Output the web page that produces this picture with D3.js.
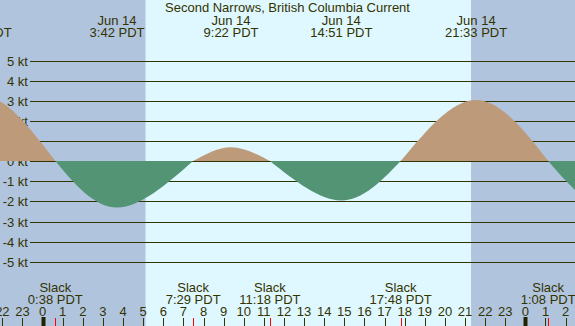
<!DOCTYPE html>
<html>
<head>
<meta charset="utf-8">
<script src="https://cdn.jsdelivr.net/npm/d3@7"></script>
<style>
  body { margin: 0; background: #fff; }
  svg { display: block; }
  text { font-family: "Liberation Sans", Arial, sans-serif; font-size: 13px; fill: #333300; }
</style>
</head>
<body>
<script>
var title = "Second Narrows, British Columbia Current";

// current events (slack / max flood / max ebb), local PDT times
var eventTimes = ["2024-06-13 17:20", "2024-06-13 20:55", "2024-06-14 00:38", "2024-06-14 03:42",
                  "2024-06-14 07:29", "2024-06-14 09:22", "2024-06-14 11:18", "2024-06-14 14:51",
                  "2024-06-14 17:48", "2024-06-14 21:33", "2024-06-15 01:08", "2024-06-15 04:20",
                  "2024-06-15 07:50"];
var eventSpeeds = [0, 3.3, 0, -2.3, 0, 0.7, 0, -1.95, 0, 3.05, 0, -2.4, 0];
var eventTypes = ["slack", "flood", "slack", "ebb", "slack", "flood", "slack", "ebb",
                  "slack", "flood", "slack", "ebb", "slack"];

var sunrise = ["2024-06-13 05:07", "2024-06-14 05:07", "2024-06-15 05:07"];
var sunset = ["2024-06-13 21:17", "2024-06-14 21:18", "2024-06-15 21:18"];

var speedTicks = [5, 4, 3, 2, 1, 0, -1, -2, -3, -4, -5];
var viewStart = "2024-06-13 21:53";
var viewEnd = "2024-06-15 02:28";

var WIDTH = 575;
var HEIGHT = 326;

var parse = d3.timeParse("%Y-%m-%d %H:%M");
var fmtDay = d3.timeFormat("%b %-d");
var fmtTime = d3.timeFormat("%-H:%M PDT");
var fmtHour = d3.timeFormat("%-H");

var events = eventTimes.map(function (t, i) {
  return {t: parse(t), v: eventSpeeds[i], type: eventTypes[i]};
});

// one lobe per half cycle: slack -> max -> slack
var lobes = [];
events.forEach(function (d, i) {
  if (d.type !== "slack" && i > 0 && i < events.length - 1) {
    lobes.push({type: d.type, pts: [events[i - 1], d, events[i + 1]]});
  }
});

var xScale = d3.scaleTime()
  .domain([parse(viewStart), parse(viewEnd)])
  .range([0, WIDTH]);

var yScale = d3.scaleLinear()
  .domain([5, -5])
  .range([60.7, 261.7]);

var px = function (v) { return Math.round(v) + 0.5; };

var svg = d3.select('body').append('svg')
  .attr('width', WIDTH)
  .attr('height', HEIGHT);

// day / night background
svg.append('rect')
  .attr('width', WIDTH).attr('height', HEIGHT)
  .attr('fill', '#b0c4de');

svg.append('g').selectAll('rect')
  .data(sunrise)
  .enter()
  .append('rect')
  .attr('x', function (d, i) { return xScale(parse(d)); })
  .attr('y', 0)
  .attr('width', function (d, i) { return xScale(parse(sunset[i])) - xScale(parse(d)); })
  .attr('height', HEIGHT)
  .attr('fill', '#dff7ff');

// grid lines + kt labels
var grid = svg.append('g');
grid.selectAll('line')
  .data(speedTicks)
  .enter()
  .append('line')
  .attr('x1', 30).attr('x2', WIDTH)
  .attr('y1', function (d) { return px(yScale(d)); })
  .attr('y2', function (d) { return px(yScale(d)); })
  .attr('stroke', '#333300')
  .attr('stroke-width', 1);

grid.selectAll('text')
  .data(speedTicks)
  .enter()
  .append('text')
  .attr('x', 28)
  .attr('y', function (d) { return Math.round(yScale(d)) + 5; })
  .attr('text-anchor', 'end')
  .text(function (d) { return d + " kt"; });

// flood / ebb fill
var zeroY = Math.round(yScale(0));

var area = d3.area()
  .curve(d3.curveNatural)
  .x(function (d) { return xScale(d.t); })
  .y0(zeroY)
  .y1(function (d) { return d.v === 0 ? zeroY : yScale(d.v); });

svg.append('g').selectAll('path')
  .data(lobes)
  .enter()
  .append('path')
  .attr('d', function (d) { return area(d.pts); })
  .attr('fill', function (d) { return d.type === "flood" ? '#bc9a7a' : '#529474'; });

// title
svg.append('text')
  .attr('x', WIDTH / 2)
  .attr('y', 12)
  .attr('text-anchor', 'middle')
  .text(title);

// max flood / ebb labels along the top
var maxEvents = events.filter(function (d) { return d.type !== "slack"; });
var topLabels = svg.append('g').selectAll('g')
  .data(maxEvents)
  .enter()
  .append('g')
  .attr('transform', function (d) { return "translate(" + xScale(d.t) + ",0)"; });
topLabels.append('text').attr('y', 24.5).attr('text-anchor', 'middle')
  .text(function (d) { return fmtDay(d.t); });
topLabels.append('text').attr('y', 36.5).attr('text-anchor', 'middle')
  .text(function (d) { return fmtTime(d.t); });

// slack labels along the bottom
var slackEvents = events.filter(function (d) { return d.type === "slack"; });
var bottomLabels = svg.append('g').selectAll('g')
  .data(slackEvents)
  .enter()
  .append('g')
  .attr('transform', function (d) { return "translate(" + xScale(d.t) + ",0)"; });
bottomLabels.append('text').attr('y', 291.5).attr('text-anchor', 'middle').text("Slack");
bottomLabels.append('text').attr('y', 304).attr('text-anchor', 'middle')
  .text(function (d) { return fmtTime(d.t); });

// hour ticks
var hours = xScale.ticks(d3.timeHour.every(1));
var hourG = svg.append('g');
hourG.selectAll('text')
  .data(hours)
  .enter()
  .append('text')
  .attr('x', function (d) { return xScale(d); })
  .attr('y', 315.5)
  .attr('text-anchor', 'middle')
  .text(function (d) { return fmtHour(d); });

hourG.selectAll('line')
  .data(hours)
  .enter()
  .append('line')
  .attr('x1', function (d) { return px(xScale(d)); })
  .attr('x2', function (d) { return px(xScale(d)); })
  .attr('y1', function (d) { return d.getHours() === 0 ? 317 : 318; })
  .attr('y2', HEIGHT)
  .attr('stroke', function (d) { return d.getHours() === 0 ? '#222200' : '#333300'; })
  .attr('stroke-width', function (d) { return d.getHours() === 0 ? 4 : 1; });

// red slack ticks
svg.append('g').selectAll('line')
  .data(slackEvents)
  .enter()
  .append('line')
  .attr('x1', function (d) { return px(xScale(d.t)); })
  .attr('x2', function (d) { return px(xScale(d.t)); })
  .attr('y1', 318)
  .attr('y2', HEIGHT)
  .attr('stroke', '#ff0000')
  .attr('stroke-width', 1);
</script>
</body>
</html>
